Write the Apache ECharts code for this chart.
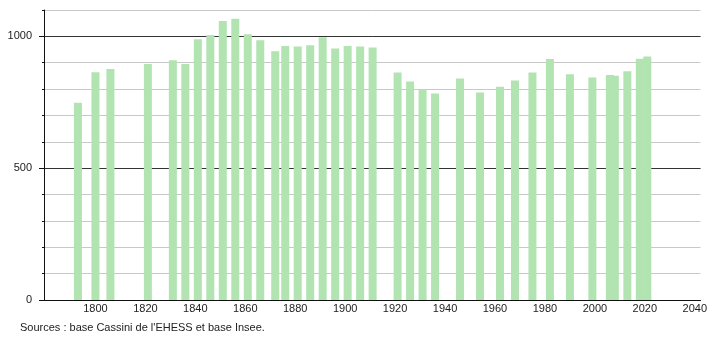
<!DOCTYPE html>
<html><head><meta charset="utf-8">
<script src="https://cdn.jsdelivr.net/npm/echarts@6/dist/echarts.min.js"></script>
<style>html,body{margin:0;padding:0;background:#fff}#c{width:710px;height:340px}</style>
</head><body><div id="c"></div>
<script>
const years = [1793,1800,1806,1821,1831,1836,1841,1846,1851,1856,1861,1866,1872,1876,1881,1886,1891,1896,1901,1906,1911,1921,1926,1931,1936,1946,1954,1962,1968,1975,1982,1990,1999,2006,2008,2013,2018,2021];
const population = [748,864,876,895,909,895,989,1005,1058,1067,1008,985,944,963,962,966,997,954,963,962,958,863,829,798,783,840,787,809,833,863,914,856,844,853,851,868,915,924];
const xTickLabels = [1800,1820,1840,1860,1880,1900,1920,1940,1960,1980,2000,2020,2040];
const yTickLabels = [0,500,1000];
const sourceText = "Sources : base Cassini de l'EHESS et base Insee.";

const chart = echarts.init(document.getElementById('c'), null, {renderer:'canvas'});
const font = 'Liberation Sans, Arial, sans-serif';
chart.setOption({
  animation:false,
  grid:{left:44,right:9,top:10,bottom:40},
  xAxis:{type:'value',min:1779.4,max:2042.3,
    axisLine:{show:true,lineStyle:{color:'#111',width:1}},
    axisTick:{show:false},
    splitLine:{show:false},
    axisLabel:{customValues:xTickLabels,formatter:v=>String(v),color:'#222',fontSize:11,fontFamily:font,margin:3}
  },
  yAxis:[{type:'value',min:0,max:1100,interval:100,
    axisLine:{show:true,lineStyle:{color:'#111'}},
    axisTick:{show:true,length:2,lineStyle:{color:'#111'}},
    axisLabel:{customValues:yTickLabels,formatter:v=>String(v),color:'#222',fontSize:11,fontFamily:font,margin:12},
    splitLine:{show:true,lineStyle:{color:'#c8c8c8',width:1}}
  },{type:'value',min:0,max:1100,position:'left',
    axisLine:{show:false},
    axisTick:{show:true,customValues:yTickLabels,length:5,lineStyle:{color:'#111'}},
    axisLabel:{show:false},
    splitLine:{show:true,lineStyle:{color:'#333',width:1}}
  }],
  series:[{type:'bar',data:years.map((y,i)=>[y,population[i]]),barWidth:8,
    itemStyle:{color:'#b2e4b2'}}],
  graphic:[{type:'text',left:20,top:322,style:{text:sourceText,fill:'#222',font:'11px '+font}}]
});
</script></body></html>
